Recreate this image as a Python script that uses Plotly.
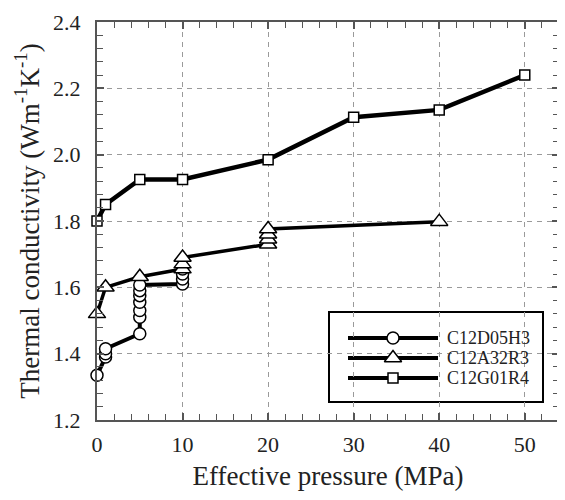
import plotly.graph_objects as go

# C12D05H3 (circles)
d05_x = [0, 1, 1, 1, 5, 5, 5, 5, 5, 5, 5, 10, 10, 10, 10]
d05_y = [1.335, 1.39, 1.40, 1.415, 1.46, 1.51, 1.53, 1.555, 1.575, 1.59, 1.607, 1.61, 1.625, 1.64, 1.655]

# C12A32R3 (triangles)
a32_x = [0, 1, 5, 10, 10, 10, 20, 20, 20, 20, 40]
a32_y = [1.52, 1.60, 1.632, 1.655, 1.67, 1.69, 1.73, 1.745, 1.76, 1.776, 1.798]

# C12G01R4 (squares)
g01_x = [0, 1, 5, 10, 20, 30, 40, 50]
g01_y = [1.80, 1.85, 1.925, 1.925, 1.985, 2.113, 2.135, 2.24]

names = ["C12D05H3", "C12A32R3", "C12G01R4"]
symbols = ["circle", "triangle-up", "square"]
msizes = [12, 15, 10]
lwidths = [4, 3.5, 4.5]

FONT = "Liberation Serif, Times New Roman, serif"
AX = "#555555"
TXT = "#222222"

# page offset (default body margin of the browser page)
OFF = 8
W, H = 565 - OFF, 500 - OFF
L, R, T, B = 97 - OFF, 565 - 559, 22 - OFF, 80
PW = W - L - R
PH = H - T - B


def px(xp):
    """window x pixel -> paper x"""
    return (xp - OFF - L) / PW


def py(yp):
    """window y pixel -> paper y"""
    return 1 - (yp - OFF - T) / PH


fig = go.Figure()
for xs, ys, nm, sym, sz, lw in zip([d05_x, a32_x, g01_x], [d05_y, a32_y, g01_y],
                                   names, symbols, msizes, lwidths):
    fig.add_trace(go.Scatter(
        x=xs, y=ys, name=nm, mode="lines+markers", showlegend=False, cliponaxis=False,
        line=dict(color="black", width=lw),
        marker=dict(symbol=sym, size=sz, color="white",
                    line=dict(color="black", width=1.5)),
    ))

axis_common = dict(
    showline=True, linewidth=2, linecolor=AX, mirror="allticks",
    ticks="inside", ticklen=7, tickwidth=1.5, tickcolor=AX,
    showgrid=True, gridcolor="#9a9a9a", gridwidth=1, griddash="5px,5px",
    zeroline=False,
    tickfont=dict(family=FONT, size=22, color=TXT),
)

fig.update_xaxes(
    range=[0, 54], tick0=0, dtick=10,
    minor=dict(dtick=2, ticks="inside", ticklen=6, tickcolor=AX, tickwidth=1.2, showgrid=False),
    title=dict(text="Effective pressure (MPa)", font=dict(family=FONT, size=27, color=TXT), standoff=10),
    ticklabelstandoff=4,
    **axis_common,
)
fig.update_yaxes(
    range=[1.2, 2.4], tick0=1.2, dtick=0.2, tickformat=".1f",
    minor=dict(dtick=0.04, ticks="inside", ticklen=6, tickcolor=AX, tickwidth=1.2, showgrid=False),
    title=dict(text="Thermal conductivity (Wm<sup>-1</sup>K<sup>-1</sup>)",
               font=dict(family=FONT, size=27, color=TXT), standoff=6),
    ticklabelstandoff=10,
    **axis_common,
)

# ---- manual legend (box, line samples, markers, labels) ----
shapes = [dict(type="rect", xref="paper", yref="paper",
               x0=px(329), x1=px(543), y0=py(402), y1=py(312),
               line=dict(color="black", width=2), fillcolor="white", layer="between")]
row_y = [338, 358, 378]
annotations = []
leg_mx, leg_my = [], []
for i, nm in enumerate(names):
    shapes.append(dict(type="line", xref="paper", yref="paper",
                       x0=px(348), x1=px(438), y0=py(row_y[i]), y1=py(row_y[i]),
                       line=dict(color="black", width=4), layer="between"))
    annotations.append(dict(text=nm, xref="paper", yref="paper", x=px(445), y=py(row_y[i]),
                            xanchor="left", yanchor="middle", showarrow=False,
                            font=dict(family=FONT, size=18, color=TXT)))
    leg_mx.append(px(393))
    leg_my.append(py(row_y[i]))

# overlay axes spanning the plot area in paper units for the legend markers
fig.update_layout(
    xaxis2=dict(overlaying="x", range=[0, 1], visible=False, fixedrange=True),
    yaxis2=dict(overlaying="y", range=[0, 1], visible=False, fixedrange=True),
)
for i in range(3):
    fig.add_trace(go.Scatter(
        x=[leg_mx[i]], y=[leg_my[i]], xaxis="x2", yaxis="y2", mode="markers",
        showlegend=False, hoverinfo="skip", cliponaxis=False,
        marker=dict(symbol=symbols[i], size=msizes[i], color="white",
                    line=dict(color="black", width=1.5)),
    ))

fig.update_layout(
    width=W, height=H,
    margin=dict(l=L, r=R, t=T, b=B, autoexpand=False),
    paper_bgcolor="white", plot_bgcolor="white",
    font=dict(family=FONT, color=TXT),
    showlegend=False,
    shapes=shapes, annotations=annotations,
)

fig.write_html("out.html")
